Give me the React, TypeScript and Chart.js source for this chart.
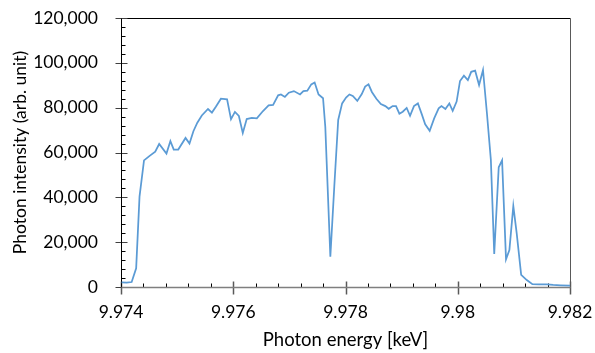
import React, { useEffect, useRef } from "react";
import { Chart, registerables } from "chart.js";

Chart.register(...registerables);

// Photon energy (keV)
const energies = [
  9.97401, 9.9741, 9.97419, 9.97427, 9.97433, 9.97441, 9.97451, 9.97461, 9.97468, 9.97481,
  9.97488, 9.97494, 9.97502, 9.97515, 9.97522, 9.97529, 9.97536, 9.97544, 9.97555, 9.97562,
  9.97569, 9.97578, 9.97589, 9.97596, 9.97603, 9.9761, 9.97617, 9.97624, 9.97633, 9.97642,
  9.97653, 9.97663, 9.97671, 9.9768, 9.97685, 9.97692, 9.97699, 9.97708, 9.97719, 9.97725,
  9.97732, 9.97739, 9.97745, 9.97752, 9.9776, 9.97764, 9.97773, 9.9778, 9.97787, 9.97794,
  9.97801, 9.97807, 9.97813, 9.97821, 9.97829, 9.97835, 9.97841, 9.97847, 9.97855, 9.97863,
  9.97871, 9.97877, 9.97884, 9.9789, 9.97896, 9.97902, 9.97909, 9.97915, 9.97922, 9.97929,
  9.97936, 9.97942, 9.9795, 9.97958, 9.97966, 9.97971, 9.97978, 9.97985, 9.97991, 9.97998,
  9.98004, 9.98011, 9.98018, 9.98024, 9.98031, 9.98038, 9.98045, 9.98052, 9.98059, 9.98065,
  9.98073, 9.98079, 9.98086, 9.98092, 9.98099, 9.98105, 9.98113, 9.98123, 9.98133, 9.98145,
  9.98159, 9.9817, 9.98183, 9.982,
];

// Photon intensity (arb. unit)
const intensities = [
  2100, 1900, 2200, 8300, 40300, 56500, 58500, 60400, 63800, 59500,
  65100, 61300, 61300, 66500, 64000, 69500, 73300, 76500, 79400, 77800,
  80400, 84000, 83700, 74900, 78100, 76300, 68700, 74900, 75400, 75200,
  78500, 81000, 81200, 85500, 85900, 84800, 86700, 87400, 85900, 87400,
  87600, 90400, 91200, 85900, 84200, 71500, 13500, 44700, 74500, 81900,
  84500, 85900, 85200, 83000, 86100, 89400, 90400, 87000, 84000, 81600,
  80700, 79500, 80700, 80700, 77300, 78200, 79900, 76400, 80700, 81900,
  77000, 72600, 69700, 75200, 79700, 80700, 79400, 81900, 78600, 82700,
  91900, 94300, 92300, 96000, 96500, 90100, 96800, 77500, 56700, 14700,
  53400, 56500, 12400, 16500, 36100, 24000, 5400, 3100, 1300, 1200,
  1200, 900, 760, 600,
];

const xMin = 9.974;
const xMax = 9.982;
const xMajorStep = 0.002;
const xMinorStep = 0.0004;
const yMin = 0;
const yMax = 120000;
const yMajorStep = 20000;
const yMinorStep = 4000;

const xTitle = "Photon energy [keV]";
const yTitle = "Photon intensity (arb. unit)";

const FONT = "Lato, 'Open Sans', sans-serif";

const framePlugin = {
  id: "frame",
  beforeDatasetsDraw(chart: any) {
    const { ctx, chartArea: a } = chart;
    const xs = chart.scales.x;
    const ys = chart.scales.y;
    const L = Math.round(a.left) + 0.5;
    const R = Math.round(a.right) + 0.5;
    const T = Math.round(a.top) + 0.5;
    const B = Math.round(a.bottom) + 0.5;
    const line = (x1: number, y1: number, x2: number, y2: number, color: string, w = 1) => {
      ctx.beginPath();
      ctx.strokeStyle = color;
      ctx.lineWidth = w;
      ctx.moveTo(x1, y1);
      ctx.lineTo(x2, y2);
      ctx.stroke();
    };
    ctx.save();
    line(L, T, R, T, "#000");
    line(R, T, R, B, "#595959");
    const ny = Math.round((yMax - yMin) / yMinorStep);
    for (let i = 0; i <= ny; i++) {
      const v = yMin + i * yMinorStep;
      const py = Math.round(ys.getPixelForValue(v)) + 0.5;
      if (i % Math.round(yMajorStep / yMinorStep) === 0) line(L - 6, py, L + 6, py, "#404040");
      else line(L, py, L + 4, py, "#000");
    }
    const nx = Math.round((xMax - xMin) / xMinorStep);
    for (let i = 0; i <= nx; i++) {
      const v = xMin + i * xMinorStep;
      const px = Math.round(xs.getPixelForValue(v)) + 0.5;
      if (i % Math.round(xMajorStep / xMinorStep) === 0) line(px, B - 6, px, B + 7, "#595959", 1.5);
      else line(px, B - 4, px, B, "#000");
    }
    line(L, T, L, B, "#000");
    line(L, B, R, B, "#7f7f7f", 1.5);
    ctx.restore();
  },
};

const zeroPad = (s: any) => {
  s.paddingTop = 0;
  s.paddingBottom = 0;
  s.paddingLeft = 0;
  s.paddingRight = 0;
};

export default function App() {
  const ref = useRef<HTMLCanvasElement | null>(null);
  useEffect(() => {
    document.body.style.margin = "0";
    if (!ref.current) return;
    const chart = new Chart(ref.current, {
      type: "line",
      data: {
        datasets: [
          {
            data: energies.map((e, i) => ({ x: e, y: intensities[i] })),
            borderColor: "#5B9BD5",
            borderWidth: 1.75,
            pointRadius: 0,
            tension: 0,
            fill: false,
          },
        ],
      },
      options: {
        animation: false,
        responsive: false,
        maintainAspectRatio: false,
        layout: { padding: { left: 0, right: 25, top: 18, bottom: 0 } },
        plugins: { legend: { display: false }, tooltip: { enabled: false } },
        scales: {
          x: {
            type: "linear",
            min: xMin,
            max: xMax,
            afterFit: (s: any) => {
              s.height = 66;
              zeroPad(s);
            },
            afterBuildTicks: (s: any) => {
              const t = [];
              for (let v = xMin; v <= xMax + 1e-9; v += xMajorStep) t.push({ value: +v.toFixed(4) });
              s.ticks = t;
            },
            ticks: {
              color: "#000",
              font: { family: FONT, size: 17.5 },
              padding: 15,
              maxRotation: 0,
              autoSkip: false,
              callback: (v: any) => String(Number(Number(v).toFixed(3))),
            },
            grid: { display: false, drawTicks: false },
            border: { display: false },
            title: {
              display: true,
              text: xTitle,
              color: "#000",
              font: { family: FONT, size: 18.5 },
              padding: { top: 0, bottom: 2 },
            },
          },
          y: {
            type: "linear",
            min: yMin,
            max: yMax,
            afterFit: (s: any) => {
              s.width = 121;
              zeroPad(s);
            },
            ticks: {
              stepSize: yMajorStep,
              color: "#000",
              font: { family: FONT, size: 17.5 },
              padding: 23,
              callback: (v: any) => Number(v).toLocaleString("en-US"),
            },
            grid: { display: false, drawTicks: false },
            border: { display: false },
            title: {
              display: true,
              text: yTitle,
              color: "#000",
              font: { family: FONT, size: 17.5 },
              padding: { top: 10, bottom: 0 },
            },
          },
        },
      },
      plugins: [framePlugin],
    });
    return () => chart.destroy();
  }, []);
  return (
    <div style={{ width: 595, height: 353, background: "#fff" }}>
      <canvas ref={ref} width={595} height={353} style={{ display: "block" }} />
    </div>
  );
}
